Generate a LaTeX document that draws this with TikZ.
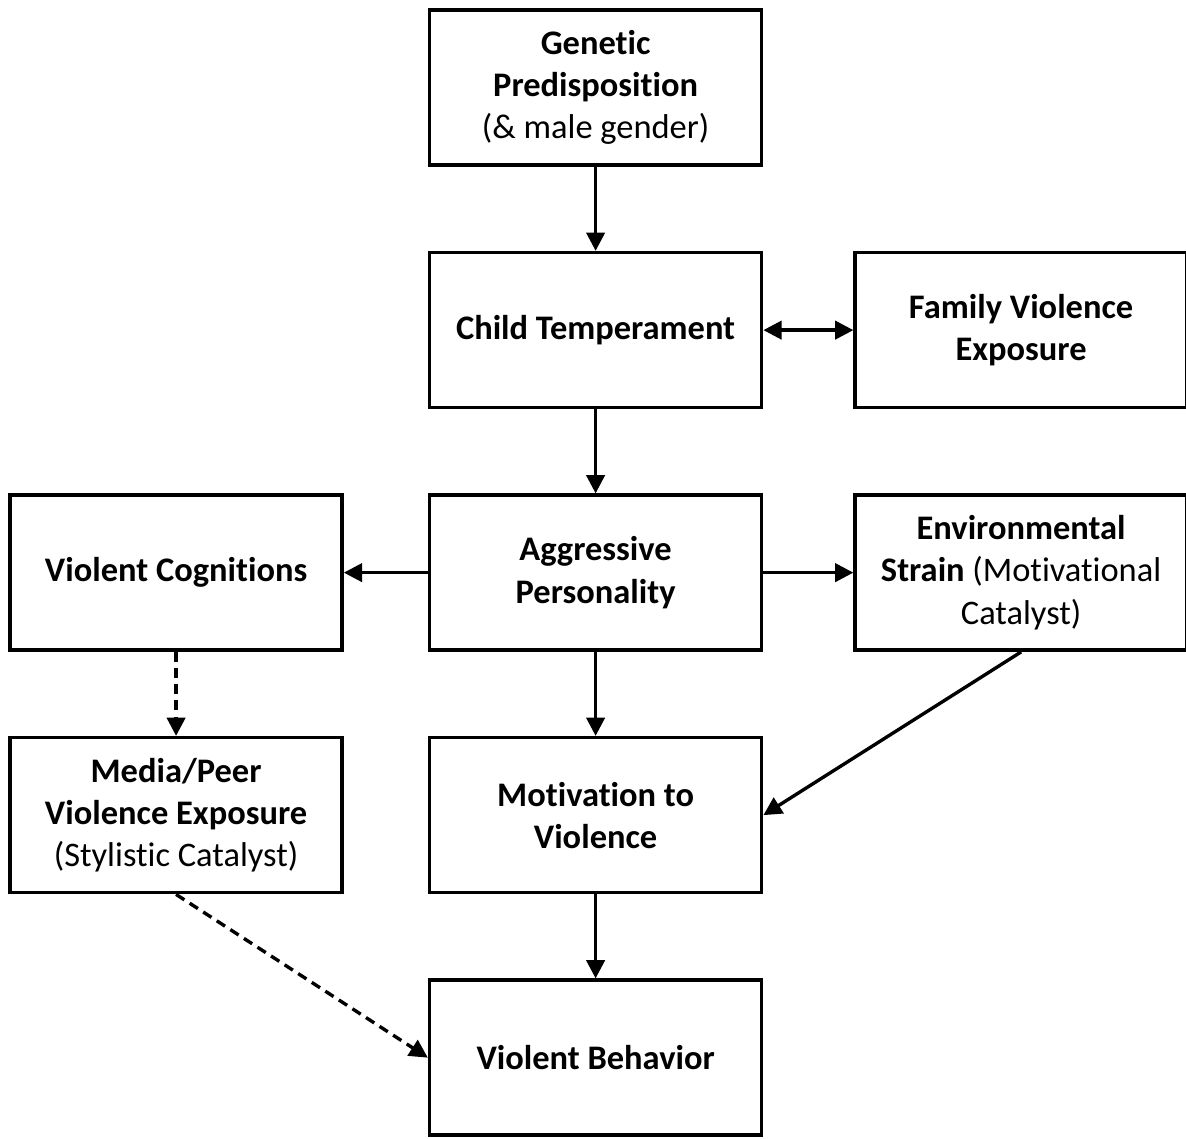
\documentclass[tikz,border=0pt]{standalone}
\usepackage{fontspec}
\setmainfont[Ligatures=NoCommon]{Carlito}
\usepackage{tikz}
\usetikzlibrary{arrows.meta, positioning}

\begin{document}
\begin{tikzpicture}[node distance=2.1cm and 2.25cm,
                    auto,
                    factor/.style={rectangle, draw, line width=2.5pt, align=center, minimum height=3.875cm, minimum width=8.3cm, inner sep=4pt, font=\fontsize{24.5}{30}\selectfont\bfseries},
                    effect/.style={-{Triangle[length=13pt, width=13pt]}, line width=2.4pt},
                    weak_effect/.style={effect, dash pattern=on 7pt off 4.5pt},
                    ]

    \useasboundingbox (0,0) rectangle (29.65,-28.45);

    % Main chain
    \node[factor] (genetic) at (14.89,-2.19) {Genetic\\Predisposition\\{\mdseries(\& male gender)}};
    \node[factor, below=of genetic] (temperament) {Child Temperament};
    \node[factor, below=of temperament] (personality) {Aggressive\\Personality};
    \node[factor, below=of personality] (motivation) {Motivation to\\Violence};
    \node[factor, below=of motivation] (behavior) {Violent Behavior};

    % Side factors
    \node[factor, right=of temperament] (family) {Family Violence\\Exposure};
    \node[factor, right=of personality] (strain) {Environmental\\Strain {\mdseries(Motivational}\\{\mdseries Catalyst)}};
    \node[factor, left=2.1cm of personality] (cognitions) {Violent Cognitions};
    \node[factor, below=of cognitions] (media) {Media/Peer\\Violence Exposure\\{\mdseries(Stylistic Catalyst)}};

    % Solid paths
    \draw[effect] (genetic) -- (temperament);
    \draw[effect, {Triangle[length=13pt, width=13pt]}-{Triangle[length=13pt, width=13pt]}] (temperament) -- (family);
    \draw[effect] (temperament) -- (personality);
    \draw[effect] (personality) -- (cognitions);
    \draw[effect] (personality) -- (strain);
    \draw[effect] (personality) -- (motivation);
    \draw[effect] (strain.south) -- (motivation.east);
    \draw[effect] (motivation) -- (behavior);

    % Dashed paths
    \draw[weak_effect] (cognitions) -- (media);
    \draw[weak_effect] (media.south) -- (behavior.west);

\end{tikzpicture}
\end{document}
